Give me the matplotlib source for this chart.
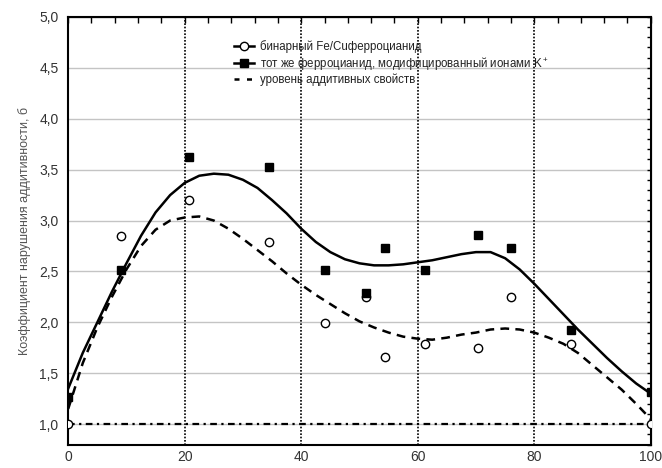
import numpy as np
import matplotlib
matplotlib.use("Agg")
import matplotlib.pyplot as plt
from matplotlib.ticker import MultipleLocator, FuncFormatter

plt.rcParams['font.family'] = ['Liberation Sans', 'DejaVu Sans']
plt.rcParams['mathtext.default'] = 'regular'

# measured points: binary Fe/Cu ferrocyanide (open circles)
bin_x = [0, 9.1, 20.8, 34.5, 44.1, 51.2, 54.3, 61.3, 70.3, 76.0, 86.3, 100]
bin_y = [1.0, 2.85, 3.20, 2.79, 1.99, 2.25, 1.66, 1.79, 1.75, 2.25, 1.79, 1.0]

# same ferrocyanide modified with K+ (filled squares)
mod_x = [0, 9.1, 20.8, 34.5, 44.0, 51.2, 54.3, 61.3, 70.3, 76.0, 86.3, 100]
mod_y = [1.27, 2.51, 3.62, 3.53, 2.51, 2.29, 2.73, 2.51, 2.86, 2.73, 1.93, 1.32]

# fitted curves
curve_x = [0, 2.5, 5, 7.5, 10, 12.5, 15, 17.5, 20, 22.5, 25, 27.5, 30, 32.5, 35,
           37.5, 40, 42.5, 45, 47.5, 50, 52.5, 55, 57.5, 60, 62.5, 65, 67.5, 70,
           72.5, 75, 77.5, 80, 82.5, 85, 87.5, 90, 92.5, 95, 97.5, 100]
mod_curve = [1.35, 1.70, 2.00, 2.30, 2.58, 2.85, 3.08, 3.25, 3.37, 3.44, 3.46,
             3.45, 3.40, 3.32, 3.20, 3.07, 2.92, 2.79, 2.69, 2.62, 2.58, 2.56,
             2.56, 2.57, 2.59, 2.61, 2.64, 2.67, 2.69, 2.69, 2.63, 2.52, 2.38,
             2.23, 2.08, 1.93, 1.79, 1.65, 1.52, 1.40, 1.30]
bin_curve = [1.15, 1.60, 1.95, 2.25, 2.52, 2.75, 2.91, 3.00, 3.03, 3.04, 3.00,
             2.92, 2.82, 2.71, 2.60, 2.48, 2.37, 2.27, 2.18, 2.09, 2.01, 1.95,
             1.90, 1.86, 1.84, 1.83, 1.85, 1.88, 1.90, 1.93, 1.94, 1.93, 1.90,
             1.85, 1.79, 1.70, 1.58, 1.46, 1.34, 1.20, 1.05]

additive_level = 1.0

labels = ['бинарный Fe/Cuферроцианид',
          'тот же ферроцианид, модифицированный ионами K$^+$',
          'уровень аддитивных свойств']

fig = plt.figure(figsize=(6.62, 4.68), dpi=100)
ax = fig.add_axes([0.103, 0.05, 0.880, 0.914])

ax.set_xlim(0, 100)
ax.set_ylim(0.8, 5.0)

# grid
for yv in np.arange(1.0, 5.01, 0.5):
    ax.axhline(yv, color='#c4c4c4', lw=1.0, zorder=0)
for xv in [20, 40, 60, 80]:
    ax.axvline(xv, color='black', lw=1.2, ls=(0, (1, 1)), zorder=1)

ax.plot(curve_x, mod_curve, color='black', lw=1.8, zorder=3)
ax.plot(curve_x, bin_curve, color='black', lw=1.8, ls=(0, (3.5, 2.5)), zorder=3)
ax.axhline(additive_level, color='black', lw=1.6, ls=(0, (3, 2, 1, 2)), zorder=3)

ax.plot(bin_x, bin_y, 'o', ms=6, mfc='white', mec='black', mew=1.0, zorder=4)
ax.plot(mod_x, mod_y, 's', ms=6, mfc='black', mec='black', zorder=4)

# legend
h1, = ax.plot([], [], color='black', lw=1.8, marker='o', ms=6, mfc='white', mec='black')
h2, = ax.plot([], [], color='black', lw=1.8, marker='s', ms=6, mfc='black')
h3, = ax.plot([], [], color='black', lw=1.8, ls=(0, (2, 3)))
leg = ax.legend([h1, h2, h3], labels, loc='upper left', bbox_to_anchor=(0.27, 0.965),
                frameon=False, fontsize=8.3, handlelength=1.8, handletextpad=0.5,
                labelspacing=0.15, borderpad=0.2)
for t in leg.get_texts():
    t.set_color('#222222')

# ticks
ax.xaxis.set_major_locator(MultipleLocator(20))
ax.set_yticks(np.arange(1.0, 5.01, 0.5))
ax.yaxis.set_major_formatter(FuncFormatter(lambda v, p: f'{v:.1f}'.replace('.', ',')))
ax.tick_params(axis='both', which='major', length=0, labelsize=10, labelcolor='#333333')
ax.tick_params(axis='x', pad=4)
ax.tick_params(axis='y', pad=7)

# inward minor ticks on top and right
axt = ax.secondary_xaxis('top')
axt.xaxis.set_major_locator(MultipleLocator(4))
axt.tick_params(direction='in', length=4, labeltop=False, width=1)
axr = ax.secondary_yaxis('right')
axr.yaxis.set_major_locator(MultipleLocator(0.1))
axr.tick_params(direction='in', length=3, labelright=False, width=1)

for s in ax.spines.values():
    s.set_linewidth(1.5)

ax.set_ylabel('Коэффициент нарушения аддитивности, б', fontsize=9, color='#555555', labelpad=6)

fig.savefig('out.png', dpi=100)
